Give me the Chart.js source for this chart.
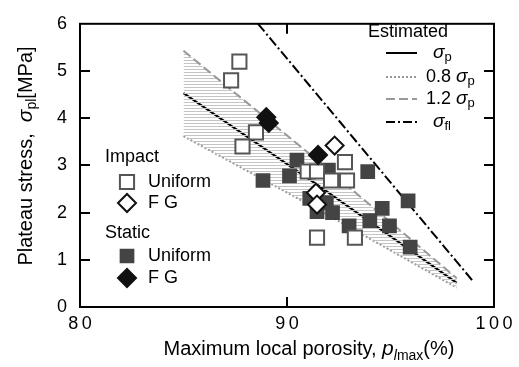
<!DOCTYPE html>
<html>
<head>
<meta charset="utf-8">
<script src="https://cdn.jsdelivr.net/npm/chart.js@4/dist/chart.umd.min.js"></script>
<style>
  body { margin: 0; background: #fff; }
  #wrap { width: 519px; height: 367px; }
</style>
</head>
<body>
<div id="wrap"><canvas id="plateau" width="519" height="367"></canvas></div>
<script>
// axes
const xTicks = [80, 90, 100];
const yTicks = [0, 1, 2, 3, 4, 5, 6];

// estimated lines
const lineX = [85, 91.4, 98.2];
const sigmaP = [4.53, 2.61, 0.51];
const sigmaP08 = [3.62, 2.09, 0.41];
const sigmaP12 = [5.43, 3.13, 0.61];
const sigmaFlX = [88.6, 98.94];
const sigmaFl = [6, 0.57];

// measured points  [porosity %, stress MPa]
const impactUniform = [[87.7, 5.2], [87.3, 4.8], [88.5, 3.7], [87.85, 3.4], [91.0, 2.87], [91.45, 2.87],
  [92.8, 3.07], [92.13, 2.68], [92.9, 2.68], [91.45, 1.47], [93.28, 1.47]];
const impactFG = [[92.3, 3.42], [91.4, 2.42], [91.45, 2.17]];
const staticUniform = [[88.84, 2.68], [90.48, 3.11], [90.12, 2.78], [92.0, 2.9], [93.9, 2.87], [95.85, 2.25],
  [94.6, 2.09], [94.0, 1.83], [94.95, 1.72], [93.0, 1.72], [92.2, 2.0], [91.45, 2.02], [91.1, 2.3],
  [91.9, 2.21], [95.95, 1.27]];
const staticFG = [[89.0, 4.02], [89.12, 3.9], [91.5, 3.22]];

const FONT = "'Liberation Sans', Arial, sans-serif";
const toXY = arr => arr.map(p => ({x: p[0], y: p[1]}));
const lineXY = (xs, ys) => xs.map((x, i) => ({x: x, y: ys[i]}));

// horizontal hatch for the band between 0.8 and 1.2
const pc = document.createElement('canvas');
pc.width = 4; pc.height = 3;
const pctx = pc.getContext('2d');
pctx.fillStyle = '#c4c4c4';
pctx.fillRect(0, 0, 4, 1);
const hatch = document.getElementById('plateau').getContext('2d').createPattern(pc, 'repeat');

// draw a run of text pieces: [text, font, dy]
function richText(ctx, parts, x, y, align) {
  let w = 0;
  parts.forEach(p => { ctx.font = p[1]; w += ctx.measureText(p[0]).width; });
  let cx = align === 'center' ? x - w / 2 : x;
  parts.forEach(p => {
    ctx.font = p[1];
    ctx.fillText(p[0], cx, y + (p[2] || 0));
    cx += ctx.measureText(p[0]).width;
  });
}

const N = '18px ' + FONT, I = 'italic 19px ' + FONT, S = '13px ' + FONT, SI = 'italic 13px ' + FONT;
const TN = '20px ' + FONT, TI = 'italic 21px ' + FONT, TS = '14px ' + FONT, TSI = 'italic 14px ' + FONT;

const decor = {
  id: 'decor',
  afterDatasetsDraw(chart) {
    const ctx = chart.ctx, a = chart.chartArea;
    const xs = chart.scales.x, ys = chart.scales.y;
    ctx.save();
    ctx.strokeStyle = '#000';
    ctx.lineWidth = 2;
    ctx.strokeRect(a.left, a.top, a.right - a.left, a.bottom - a.top);
    // inward ticks
    ctx.beginPath();
    yTicks.slice(1, -1).forEach(v => {
      const py = Math.round(ys.getPixelForValue(v));
      ctx.moveTo(a.left, py); ctx.lineTo(a.left + 10, py);
      ctx.moveTo(a.right, py); ctx.lineTo(a.right - 10, py);
    });
    xTicks.slice(1, -1).forEach(v => {
      const px = Math.round(xs.getPixelForValue(v));
      ctx.moveTo(px, a.top); ctx.lineTo(px, a.top + 10);
      ctx.moveTo(px, a.bottom); ctx.lineTo(px, a.bottom - 10);
    });
    ctx.stroke();

    ctx.fillStyle = '#000';
    ctx.textBaseline = 'alphabetic';
    // axis titles
    richText(ctx, [['Maximum local porosity, ', TN], ['p', TI], ['l', TSI, 5], ['max', TS, 5], ['(%)', TN]], 309, 355, 'center');
    ctx.save();
    ctx.translate(32, 156);
    ctx.rotate(-Math.PI / 2);
    richText(ctx, [['Plateau stress,  ', TN], ['\u03c3', TI], ['pl', TS, 4], ['[MPa]', TN]], 0, 0, 'center');
    ctx.restore();

    // legend: estimated lines
    ctx.textBaseline = 'middle';
    ctx.font = N;
    ctx.fillText('Estimated', 368, 32);
    const rows = [
      {y: 53, color: '#000', dash: [], parts: [['\u03c3', I], ['p', S, 4]]},
      {y: 77, color: '#999', dash: [2, 2], parts: [['0.8 ', N], ['\u03c3', I], ['p', S, 4]]},
      {y: 99, color: '#999', dash: [9, 4], parts: [['1.2 ', N], ['\u03c3', I], ['p', S, 4]]},
      {y: 122, color: '#000', dash: [9, 3, 2, 3], parts: [['\u03c3', I], ['fl', S, 4]]}
    ];
    rows.forEach(r => {
      ctx.beginPath();
      ctx.setLineDash(r.dash);
      ctx.strokeStyle = r.color;
      ctx.moveTo(386, r.y); ctx.lineTo(417, r.y);
      ctx.stroke();
      ctx.setLineDash([]);
      richText(ctx, r.parts, r.parts.length === 2 ? 433 : 426, r.y, 'left');
    });

    // legend: specimens
    ctx.font = N;
    ctx.fillText('Impact', 105, 157);
    ctx.fillText('Static', 105, 233);
    const marks = [
      {y: 182, style: 'rect', r: 10, fill: '#fff', line: '#555', text: 'Uniform'},
      {y: 203, style: 'rectRot', r: 9, fill: '#fff', line: '#111', text: 'F G'},
      {y: 256, style: 'rect', r: 9, fill: '#444', line: '#444', text: 'Uniform'},
      {y: 278, style: 'rectRot', r: 9, fill: '#111', line: '#111', text: 'F G'}
    ];
    marks.forEach(m => {
      ctx.fillStyle = m.fill;
      ctx.strokeStyle = m.line;
      ctx.lineWidth = 2;
      Chart.helpers.drawPoint(ctx, {pointStyle: m.style, radius: m.r, borderWidth: 2}, 127, m.y);
      ctx.fillStyle = '#000';
      ctx.font = N;
      ctx.fillText(m.text, 148, m.y);
    });
    ctx.restore();
  }
};

// lower order is drawn on top
const pts = (data, style, r, fill, line, order) => ({
  data: toXY(data), pointStyle: style, pointRadius: r, pointHoverRadius: r,
  backgroundColor: fill, borderColor: line, borderWidth: 2, showLine: false, order: order
});

new Chart(document.getElementById('plateau'), {
  type: 'scatter',
  data: {
    datasets: [
      {data: lineXY(lineX, sigmaP12), showLine: true, pointRadius: 0, borderColor: '#999', borderWidth: 2,
        borderDash: [9, 4], fill: {target: 1, above: hatch, below: hatch}, backgroundColor: hatch, order: 10},
      {data: lineXY(lineX, sigmaP08), showLine: true, pointRadius: 0, borderColor: '#999', borderWidth: 2,
        borderDash: [2, 2], order: 10},
      {data: lineXY(lineX, sigmaP), showLine: true, pointRadius: 0, borderColor: '#000', borderWidth: 2.2, order: 10},
      {data: lineXY(sigmaFlX, sigmaFl), showLine: true, pointRadius: 0, borderColor: '#000', borderWidth: 2,
        borderDash: [10, 3, 2, 3], order: 10},
      pts(staticUniform, 'rect', 9, '#444', '#444', 4),
      pts(impactUniform, 'rect', 10, '#fff', '#555', 3),
      pts(impactFG, 'rectRot', 9, '#fff', '#111', 2),
      pts(staticFG, 'rectRot', 9, '#111', '#111', 1)
    ]
  },
  options: {
    responsive: false,
    devicePixelRatio: 1,
    animation: false,
    events: [],
    layout: {padding: {top: 13, right: 25, left: 0, bottom: 0}},
    plugins: {legend: {display: false}, tooltip: {enabled: false}},
    scales: {
      x: {
        type: 'linear', min: 80, max: 100,
        afterBuildTicks: s => { s.ticks = xTicks.map(v => ({value: v})); },
        afterFit: s => { s.height = 60; },
        grid: {display: false, drawTicks: false},
        border: {display: false},
        ticks: {padding: 6, color: '#000', font: {family: FONT, size: 18},
          callback: v => String(v).split('').join('\u2009')}
      },
      y: {
        min: 0, max: 6,
        afterBuildTicks: s => { s.ticks = yTicks.map(v => ({value: v})); },
        afterFit: s => { s.width = 80; },
        grid: {display: false, drawTicks: false},
        border: {display: false},
        ticks: {padding: 13, color: '#000', font: {family: FONT, size: 18}}
      }
    }
  },
  plugins: [decor]
});
</script>
</body>
</html>
